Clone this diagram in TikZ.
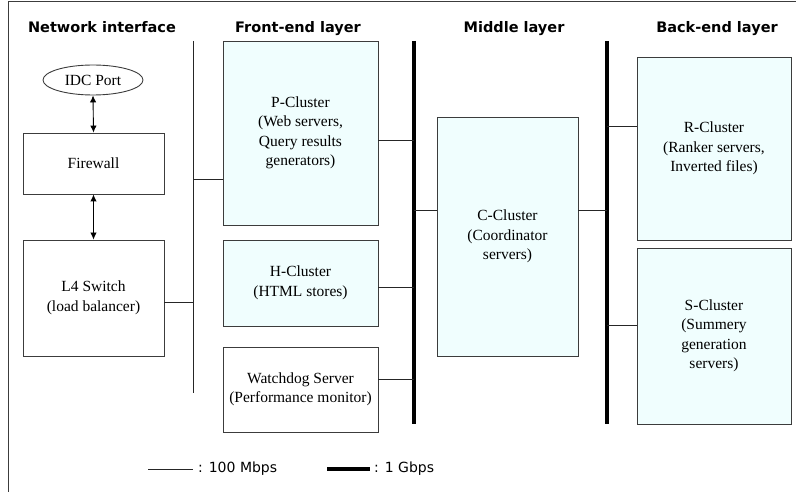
\documentclass[tikz,border=0pt]{standalone}
\usepackage{fontspec}
\setmainfont{Liberation Serif}
\newfontfamily\headfont{DejaVu Sans}
\usepackage{xcolor}
\usetikzlibrary{arrows.meta,positioning,shapes.geometric}
\definecolor{clusterfill}{HTML}{F0FEFE}
\definecolor{edgegray}{HTML}{3C3C3C}

\begin{document}
\begin{tikzpicture}[x=1pt,y=-1pt,
  box/.style={draw=edgegray,line width=0.9pt,fill=white,align=center,
              font=\fontsize{15.5}{19.5}\selectfont,inner sep=0pt},
  cluster/.style={box,fill=clusterfill},
  port/.style={ellipse,draw=edgegray,line width=0.9pt,minimum width=100pt,
               minimum height=30pt,inner sep=0pt,font=\fontsize{15.5}{19.5}\selectfont},
  head/.style={font=\headfont\bfseries\fontsize{14.5}{17}\selectfont,anchor=base},
  legend/.style={font=\headfont\fontsize{14}{17}\selectfont,anchor=west,inner sep=0pt},
  dblarr/.style={{Latex[length=7pt,width=6.5pt]}-{Latex[length=7pt,width=6.5pt]},line width=0.9pt},
  link/.style={line width=0.9pt,draw=black!85},
  bus/.style={line width=4pt}
]
\useasboundingbox (0,0) rectangle (796,492);
\draw[edgegray,line width=1pt] (8,492) -- (8,2) -- (796,2);

% layer titles
\node[head] (tnet) at (102,33) {Network interface};
\node[head] (tfront) at (298,33) {Front-end layer};
\node[head] (tmid) at (514,33) {Middle layer};
\node[head] (tback) at (717,33) {Back-end layer};

% network interface
\node[port] (idc) at (93,80) {IDC Port};
\node[box,minimum width=141pt,minimum height=61pt] (fw) at (93.5,163.5) {Firewall};
\node[box,minimum width=141pt,minimum height=116pt] (l4) at (93.5,298) {L4 Switch\\(load balancer)};
\draw[dblarr] (idc.south) -- (fw.north);
\draw[dblarr] (fw.south) -- (l4.north);

% front-end layer
\node[cluster,minimum width=155pt,minimum height=184pt] (pc) at (300.5,133)
  {P-Cluster\\(Web servers,\\Query results\\generators)};
\node[cluster,minimum width=155pt,minimum height=86pt] (hc) at (300.5,283)
  {H-Cluster\\(HTML stores)};
\node[box,minimum width=155pt,minimum height=85pt] (wd) at (300.5,389.5)
  {Watchdog Server\\(Performance monitor)};

% middle layer
\node[cluster,minimum width=141pt,minimum height=239pt] (cc) at (507.5,236.5)
  {C-Cluster\\(Coordinator\\servers)};

% back-end layer
\node[cluster,minimum width=154pt,minimum height=183pt] (rc) at (714,148.5)
  {R-Cluster\\(Ranker servers,\\Inverted files)};
\node[cluster,minimum width=154pt,minimum height=176pt] (sc) at (714,336)
  {S-Cluster\\(Summery\\generation\\servers)};

% buses
\coordinate (b0t) at (193,41);  \coordinate (b0b) at (193,393);
\coordinate (b1t) at (414,41);  \coordinate (b1b) at (414,424);
\coordinate (b2t) at (607,41);  \coordinate (b2b) at (607,424);
\draw[link] (b0t) -- (b0b);
\draw[bus] (b1t) -- (b1b);
\draw[bus] (b2t) -- (b2b);

% links
\draw[link] (l4.east) ++(0,4) coordinate (q1) -- (q1 -| b0t);
\draw[link] (pc.west) ++(0,46) coordinate (q2) -- (q2 -| b0t);
\draw[link] (pc.east) ++(0,7) coordinate (q3) -- (q3 -| b1t);
\draw[link] (hc.east) ++(0,4) coordinate (q4) -- (q4 -| b1t);
\draw[link] (wd.east) ++(0,-10.5) coordinate (q5) -- (q5 -| b1t);
\draw[link] (cc.west) ++(0,-26.5) coordinate (q6) -- (q6 -| b1t);
\draw[link] (cc.east) ++(0,-26.5) coordinate (q7) -- (q7 -| b2t);
\draw[link] (rc.west) ++(0,-22.5) coordinate (q8) -- (q8 -| b2t);
\draw[link] (sc.west) ++(0,-11) coordinate (q9) -- (q9 -| b2t);

% legend
\node[legend] (l100) at (198,469) {: 100 Mbps};
\node[legend] (l1g) at (374,469) {: 1 Gbps};
\draw[link] ([xshift=-50pt]l100.west) -- ([xshift=-5pt]l100.west);
\draw[bus] ([xshift=-47pt]l1g.west) -- ([xshift=-4pt]l1g.west);
\end{tikzpicture}
\end{document}
